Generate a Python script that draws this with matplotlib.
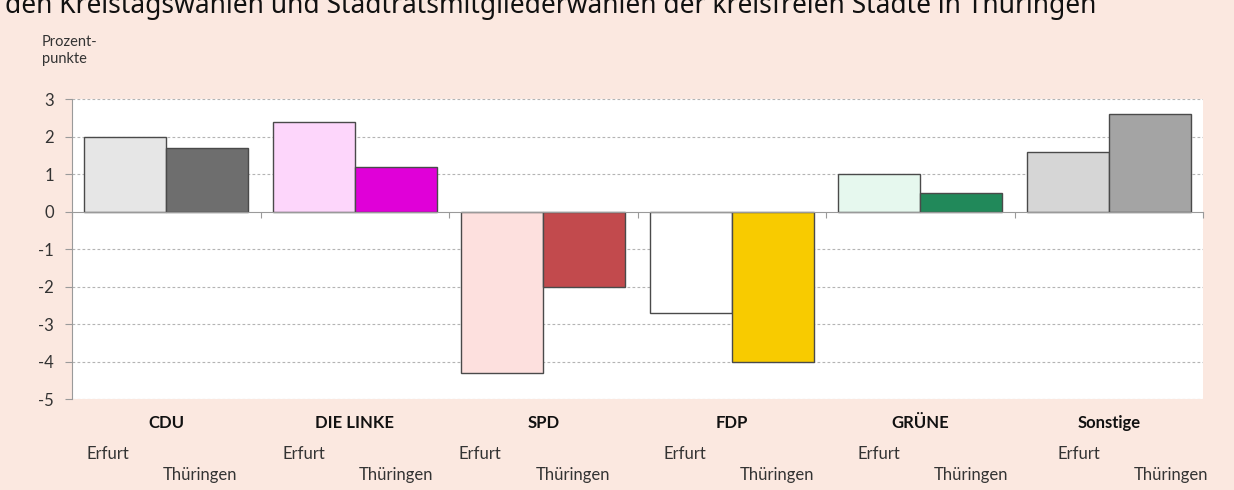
import matplotlib
matplotlib.use("Agg")
import matplotlib.pyplot as plt
import matplotlib.transforms as mtransforms
import numpy as np

# ---- data ----
parties = ["CDU", "DIE LINKE", "SPD", "FDP", "GRÜNE", "Sonstige"]
erfurt = [2.0, 2.4, -4.3, -2.7, 1.0, 1.6]
thueringen = [1.7, 1.2, -2.0, -4.0, 0.5, 2.6]
series_labels = ["Erfurt", "Thüringen"]
yticks = [3, 2, 1, 0, -1, -2, -3, -4, -5]
title = "den Kreistagswahlen und Stadtratsmitgliederwahlen der kreisfreien Städte in Thüringen"
ylabel = "Prozent-\npunkte"

# ---- styling ----
erfurt_colors = ["#e6e6e6", "#fdd6fb", "#fde0de", "#ffffff", "#e6f8ee", "#d6d6d6"]
thuer_colors = ["#6e6e6e", "#e000d8", "#c24a4d", "#f8cb00", "#21895a", "#a4a4a4"]
erfurt_label_off = [-0.31, -0.27, -0.335, -0.25, -0.22, -0.16]
thuer_label_off = [0.18, 0.22, 0.16, 0.24, 0.27, 0.33]
bg = "#fbe8e0"
narrow = ["Lato", "DejaVu Sans"]

fig = plt.figure(figsize=(12.34, 4.90), dpi=100, facecolor=bg)
ax = fig.add_axes([72/1234, 1-399/490, (1203-72)/1234, (399-99.3)/490])
ax.set_facecolor("white")

x = np.arange(len(parties))
w = 0.436
ax.bar(x - w/2, erfurt, width=w, color=erfurt_colors, edgecolor="#4a4a4a", linewidth=1.0, zorder=3)
ax.bar(x + w/2, thueringen, width=w, color=thuer_colors, edgecolor="#4a4a4a", linewidth=1.0, zorder=3)

ax.set_xlim(-0.5, len(parties) - 0.5)
ax.set_ylim(-5, 3)
ax.set_yticks(yticks)
ax.set_yticklabels([str(v) for v in yticks], fontsize=12, family=narrow, color="#333333")
for v in yticks:
    if v != 0:
        ax.axhline(v, color="#b4b4b4", linewidth=0.8, linestyle=(0, (2.5, 2)), zorder=1)

for s in ["top", "right"]:
    ax.spines[s].set_visible(False)
ax.spines["left"].set_color("#9a9a9a")
ax.spines["bottom"].set_position(("data", 0))
ax.spines["bottom"].set_color("#9a9a9a")
ax.spines["bottom"].set_zorder(4)
ax.tick_params(axis="y", length=5, color="#9a9a9a", pad=8)
ax.set_xticks(np.arange(len(parties) + 1) - 0.5)
ax.set_xticklabels([])
ax.tick_params(axis="x", length=4, color="#9a9a9a", direction="out")

trans = mtransforms.blended_transform_factory(ax.transData, fig.transFigure)
for i, p in enumerate(parties):
    ax.text(i, 1 - 423/490, p, transform=trans, ha="center", va="center",
            fontsize=12, fontweight="bold", family=narrow, color="#111111")
    ax.text(i + erfurt_label_off[i], 1 - 454/490, series_labels[0], transform=trans,
            ha="center", va="center", fontsize=12, family=narrow, color="#333333")
    ax.text(i + thuer_label_off[i], 1 - 475/490, series_labels[1], transform=trans,
            ha="center", va="center", fontsize=12, family=narrow, color="#333333")

fig.text(42/1234, 1 - 35/490, ylabel, ha="left", va="top", fontsize=10.5,
         family=narrow, color="#333333", linespacing=1.3)
fig.text(5/1234, 1 - 13/490, title, ha="left", va="baseline", fontsize=19,
         family=["Noto Sans", "DejaVu Sans"], color="#111111")

fig.savefig("out.png", dpi=100, facecolor=bg)
